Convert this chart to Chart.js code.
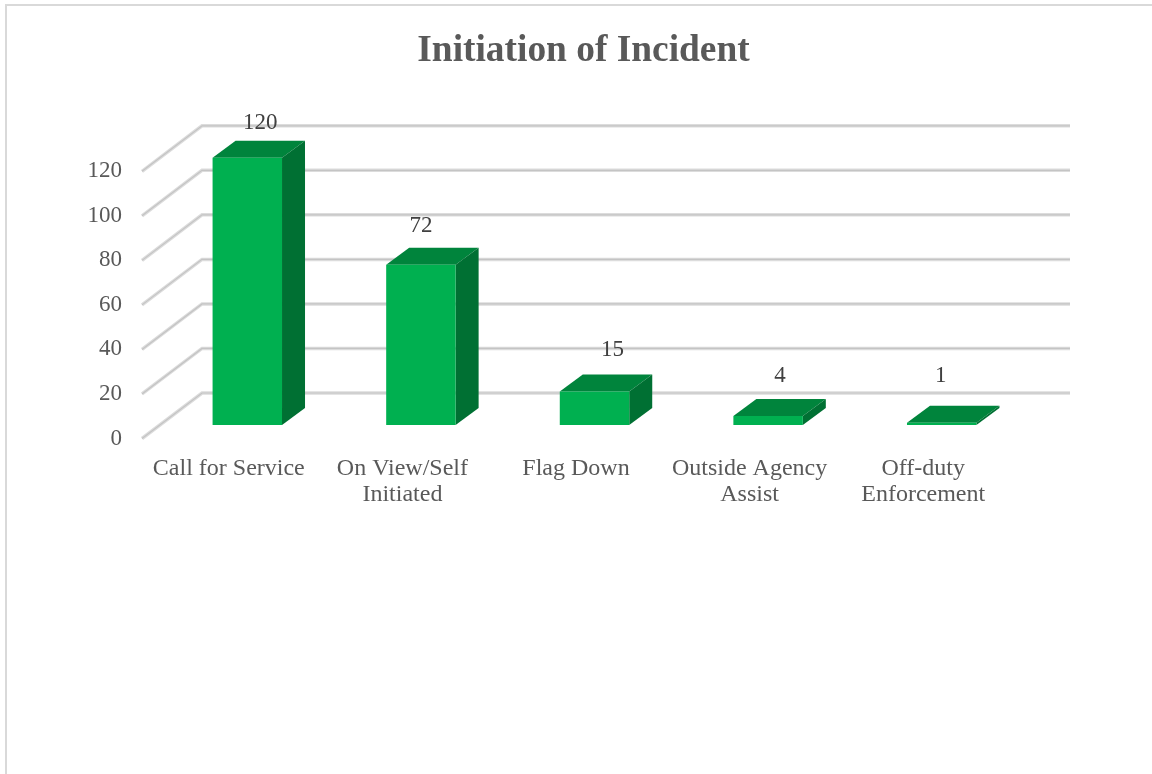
<!DOCTYPE html>
<html>
<head>
<meta charset="utf-8">
<title>Initiation of Incident</title>
<script src="https://cdn.jsdelivr.net/npm/chart.js@4"></script>
<style>
  html, body { margin: 0; padding: 0; background: #fff; overflow: hidden; width: 1152px; height: 774px; }
  #frame { position: absolute; left: 5px; top: 4px; width: 1157px; height: 790px; border: 2px solid #d9d9d9; box-sizing: border-box; }
  #grafico { position: absolute; left: 5px; top: 5px; }
</style>
</head>
<body>
<div id="frame"></div>
<canvas id="grafico" width="1157" height="769"></canvas>
<script>
const categorias = ['Call for Service', ['On View/Self', 'Initiated'], 'Flag Down', ['Outside Agency', 'Assist'], ['Off-duty', 'Enforcement']];
const valores = [120, 72, 15, 4, 1];
const tituloGrafico = 'Initiation of Incident';

// Excel dejó las etiquetas movidas a mano, cada una con su desplazamiento respecto a la barra
const desplazaEtiqueta = [[13, -35], [0, -39], [18, -41.5], [12, -40], [-1, -47]];

const FUENTE = '"Liberation Serif", "Times New Roman", serif';
const GRIS_TEXTO = '#595959';

// Falso 3D: profundidad de la pared y de las barras
const PARED_X = 60, PARED_Y = 45.5;
const BARRA_DX = 18.5, BARRA_DY = -13.5;
const FONDO_X = 23, FONDO_Y = 17;

function poligono(ctx, puntos, color) {
  ctx.beginPath();
  puntos.forEach((p, i) => i ? ctx.lineTo(p[0], p[1]) : ctx.moveTo(p[0], p[1]));
  ctx.closePath();
  ctx.fillStyle = color;
  ctx.fill();
}

const falso3d = {
  id: 'falso3d',
  beforeDatasetsDraw(chart) {
    const { ctx, chartArea, scales } = chart;
    ctx.save();
    // Rejilla: diagonal en la pared izquierda y línea horizontal al fondo
    scales.y.ticks.forEach(t => {
      const y = scales.y.getPixelForValue(t.value);
      const trazo = [[chartArea.left, y], [chartArea.left + PARED_X, y - PARED_Y], [chartArea.right + PARED_X, y - PARED_Y]];
      [[3.5, '#dcdcdc'], [1.2, '#c4c4c4']].forEach(([ancho, color]) => {
        ctx.beginPath();
        trazo.forEach((p, i) => i ? ctx.lineTo(p[0], p[1]) : ctx.moveTo(p[0], p[1]));
        ctx.lineWidth = ancho;
        ctx.strokeStyle = color;
        ctx.stroke();
      });
    });
    // Las barras nativas se dibujan desplazadas; se restaura en afterDatasetsDraw
    ctx.translate(BARRA_DX, BARRA_DY);
    chart.getDatasetMeta(0).data.forEach(barra => {
      const izq = barra.x - barra.width / 2, der = barra.x + barra.width / 2;
      poligono(ctx, [[izq, barra.y], [izq + FONDO_X, barra.y - FONDO_Y], [der + FONDO_X, barra.y - FONDO_Y], [der, barra.y]], '#00843c');
      poligono(ctx, [[der, barra.y], [der + FONDO_X, barra.y - FONDO_Y], [der + FONDO_X, barra.base - FONDO_Y], [der, barra.base]], '#007033');
    });
  },
  afterDatasetsDraw(chart) {
    const { ctx } = chart;
    ctx.restore();
    ctx.save();
    ctx.font = '23px ' + FUENTE;
    ctx.fillStyle = '#404040';
    ctx.textAlign = 'center';
    ctx.textBaseline = 'middle';
    chart.getDatasetMeta(0).data.forEach((barra, i) => {
      const [dx, dy] = desplazaEtiqueta[i];
      ctx.fillText(String(valores[i]), barra.x + BARRA_DX + dx, barra.y + BARRA_DY + dy);
    });
    ctx.restore();
  }
};

new Chart(document.getElementById('grafico').getContext('2d'), {
  type: 'bar',
  data: {
    labels: categorias,
    datasets: [{
      label: tituloGrafico,
      data: valores,
      backgroundColor: '#00b050',
      categoryPercentage: 1,
      barPercentage: 0.4,
      clip: false
    }]
  },
  options: {
    responsive: false,
    animation: false,
    plugins: {
      legend: { display: false },
      tooltip: { enabled: false },
      title: {
        display: true,
        text: tituloGrafico,
        color: GRIS_TEXTO,
        font: { family: FUENTE, size: 37.4, weight: 'bold', lineHeight: 1.2 },
        padding: { top: 24, bottom: 97.4 }
      }
    },
    scales: {
      x: {
        grid: { display: false },
        border: { display: false },
        afterFit(scale) { scale.height = 335.5; },
        ticks: {
          color: GRIS_TEXTO,
          font: { family: FUENTE, size: 24, lineHeight: 1.083 },
          padding: 9,
          autoSkip: false,
          maxRotation: 0
        }
      },
      y: {
        min: 0,
        max: 120,
        grid: { display: false, drawTicks: false },
        border: { display: false },
        afterFit(scale) { scale.width = 137; },
        ticks: {
          stepSize: 20,
          color: GRIS_TEXTO,
          font: { family: FUENTE, size: 23 },
          padding: 20
        }
      },
      // Eje vacío: reserva el margen derecho sin descentrar el título
      margen: {
        type: 'linear',
        axis: 'y',
        position: 'right',
        grid: { display: false, drawTicks: false },
        border: { display: false },
        ticks: { display: false },
        afterFit(scale) { scale.width = 152; }
      }
    }
  },
  plugins: [falso3d]
});
</script>
</body>
</html>
